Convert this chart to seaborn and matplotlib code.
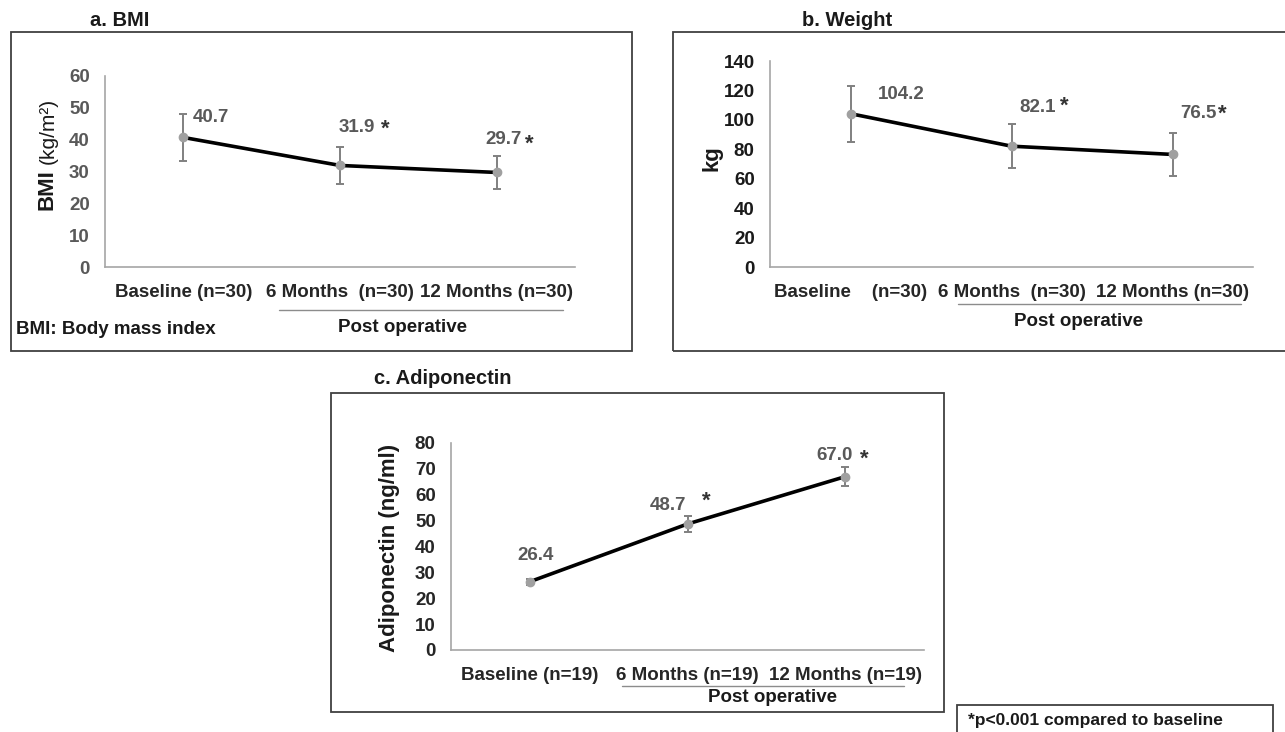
import numpy as np
import matplotlib
matplotlib.use('Agg')
import matplotlib.pyplot as plt
import seaborn as sns
from matplotlib.patches import Rectangle
from matplotlib.lines import Line2D

# Dados (media e desvio)
bmi_labels = ['Baseline (n=30)', '6 Months  (n=30)', '12 Months (n=30)']
bmi_mean = [40.7, 31.9, 29.7]
bmi_sd = [7.3, 5.7, 5.2]

weight_labels = ['Baseline    (n=30)', '6 Months  (n=30)', '12 Months (n=30)']
weight_mean = [104.2, 82.1, 76.5]
weight_sd = [19.0, 15.1, 14.9]

adipo_labels = ['Baseline (n=19)', '6 Months (n=19)', '12 Months (n=19)']
adipo_mean = [26.4, 48.7, 67.0]
adipo_sd = [1.2, 3.1, 3.6]

sns.set_theme(style='white')
plt.rcParams['font.family'] = ['Liberation Sans', 'DejaVu Sans']
plt.rcParams['font.weight'] = 'bold'

W, H = 1285, 732
fig = plt.figure(figsize=(W / 100, H / 100), dpi=100)
fig.patch.set_facecolor('white')


def px_axes(left, top, right, bottom):
    return fig.add_axes([left / W, 1 - bottom / H, (right - left) / W, (bottom - top) / H])


def ftext(x, y, s, **kw):
    fig.text(x / W, 1 - y / H, s, **kw)


def box(left, top, right, bottom):
    fig.add_artist(Rectangle((left / W, 1 - bottom / H), (right - left) / W, (bottom - top) / H,
                             transform=fig.transFigure, fill=False, edgecolor='#404040', lw=1.3))


def hline(x0, x1, y):
    fig.add_artist(Line2D([x0 / W, x1 / W], [1 - y / H, 1 - y / H], transform=fig.transFigure,
                          color='#8c8c8c', lw=1.0))


def painel(ax, labels, mean, sd, ymax, ystep, ytick_color):
    pos = np.arange(len(labels))
    sns.lineplot(x=pos, y=mean, ax=ax, color='black', lw=2.6, zorder=2)
    ax.errorbar(pos, mean, yerr=sd, fmt='o', color='#a0a0a0', ecolor='#808080',
                ms=6, elinewidth=1.4, capsize=3, capthick=1.4, zorder=3)
    ax.set_xlim(-0.5, 2.5)
    ax.set_ylim(0, ymax)
    ax.set_yticks(np.arange(0, ymax + 1, ystep))
    ax.set_xticks(pos)
    ax.set_xticklabels(labels)
    ax.tick_params(axis='both', length=0, labelsize=13.5)
    ax.tick_params(axis='x', pad=12, colors='#262626')
    ax.tick_params(axis='y', pad=11, colors=ytick_color)
    for s in ['top', 'right']:
        ax.spines[s].set_visible(False)
    for s in ['left', 'bottom']:
        ax.spines[s].set_color('#a6a6a6')
        ax.spines[s].set_linewidth(1.2)
    ax.set_facecolor('none')


lab = dict(fontsize=13.5, fontweight='bold', color='#595959', va='center', ha='left')
ast = dict(fontsize=16, fontweight='bold', color='#333333', va='center', ha='center')

# a. BMI
box(11, 32, 632, 351)
ax1 = px_axes(105, 76, 575, 267)
painel(ax1, bmi_labels, bmi_mean, bmi_sd, 60, 10, '#595959')
ax1.text(0.06, bmi_mean[0] + 6.3, f'{bmi_mean[0]:.1f}', **lab)
ax1.text(0.99, bmi_mean[1] + 11.8, f'{bmi_mean[1]:.1f}', **lab)
ax1.text(1.29, bmi_mean[1] + 11.4, '*', **ast)
ax1.text(1.93, bmi_mean[2] + 10.3, f'{bmi_mean[2]:.1f}', **lab)
ax1.text(2.21, bmi_mean[2] + 9.0, '*', **ast)
ftext(90, 20, 'a. BMI', fontsize=14.5, fontweight='bold', color='#1a1a1a', va='center')
ftext(47, 190, 'BMI', fontsize=16, fontweight='bold', rotation=90, ha='center', va='center', color='#1a1a1a')
ftext(48, 131, '(kg/m²)', fontsize=15, fontweight='normal', rotation=90, ha='center', va='center', color='#1a1a1a')
hline(279, 563, 310)
ftext(402, 327, 'Post operative', fontsize=13.5, fontweight='bold', ha='center', va='center', color='#1a1a1a')
ftext(16, 330, 'BMI: Body mass index', fontsize=13.5, fontweight='bold', va='center', color='#1a1a1a')

# b. Weight
box(673, 32, 1295, 351)
ax2 = px_axes(770, 61, 1253, 267)
painel(ax2, weight_labels, weight_mean, weight_sd, 140, 20, '#1a1a1a')
ax2.text(0.17, weight_mean[0] + 12.7, f'{weight_mean[0]:.1f}', **lab)
ax2.text(1.05, weight_mean[1] + 26.6, f'{weight_mean[1]:.1f}', **lab)
ax2.text(1.33, weight_mean[1] + 27.5, '*', **ast)
ax2.text(2.05, weight_mean[2] + 28.1, f'{weight_mean[2]:.1f}', **lab)
ax2.text(2.31, weight_mean[2] + 27.0, '*', **ast)
ftext(802, 20, 'b. Weight', fontsize=14.5, fontweight='bold', color='#1a1a1a', va='center')
ftext(712, 158, 'kg', fontsize=16, fontweight='bold', rotation=90, ha='center', va='center', color='#1a1a1a')
hline(958, 1241, 304)
ftext(1079, 322, 'Post operative', fontsize=13.5, fontweight='bold', ha='center', va='center', color='#1a1a1a')

# c. Adiponectin
box(331, 393, 944, 712)
ax3 = px_axes(451, 443, 924, 650)
painel(ax3, adipo_labels, adipo_mean, adipo_sd, 80, 10, '#262626')
ax3.text(-0.08, adipo_mean[0] + 10.3, f'{adipo_mean[0]:.1f}', **lab)
ax3.text(0.76, adipo_mean[1] + 7.3, f'{adipo_mean[1]:.1f}', **lab)
ax3.text(1.12, adipo_mean[1] + 8.8, '*', **ast)
ax3.text(1.82, adipo_mean[2] + 8.0, f'{adipo_mean[2]:.1f}', **lab)
ax3.text(2.12, adipo_mean[2] + 6.8, '*', **ast)
ftext(374, 378, 'c. Adiponectin', fontsize=14.5, fontweight='bold', color='#1a1a1a', va='center')
ftext(390, 548, 'Adiponectin (ng/ml)', fontsize=16, fontweight='bold', rotation=90, ha='center', va='center', color='#1a1a1a')
hline(622, 904, 686)
ftext(773, 697, 'Post operative', fontsize=13.5, fontweight='bold', ha='center', va='center', color='#1a1a1a')

# nota de rodape
box(957, 705, 1273, 745)
ftext(968, 721, '*p<0.001 compared to baseline', fontsize=12.5, fontweight='bold', va='center', color='#1a1a1a')

fig.savefig('out.png', dpi=100, facecolor='white')
